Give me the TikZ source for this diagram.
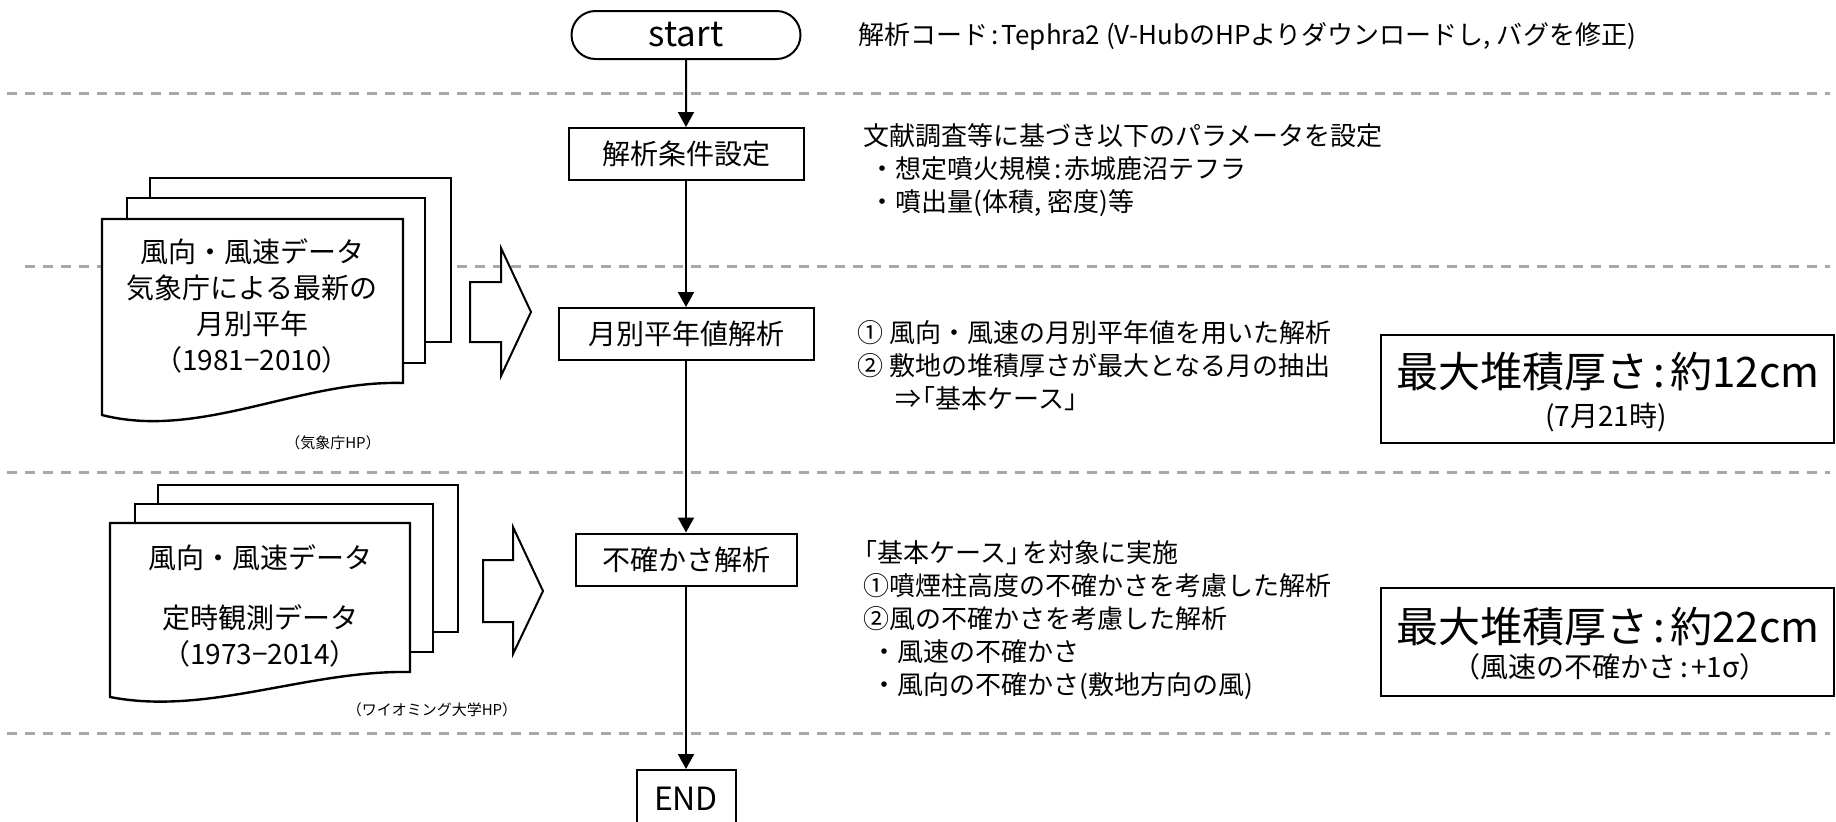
\documentclass[tikz,border=0pt]{standalone}
\usepackage{fontspec}
\setmainfont{Noto Sans CJK JP}
\usetikzlibrary{arrows.meta,positioning,shapes.misc}
\definecolor{divgray}{RGB}{168,168,168}
\newcommand{\hcol}{\kern0.12em:\kern0.12em}
\tikzset{
  flowbox/.style={draw, line width=1pt, fill=white, font=\fontsize{14pt}{17pt}\selectfont,
                  minimum height=26pt, inner sep=0pt},
  termbox/.style={draw, line width=1pt, fill=white, rounded rectangle,
                  font=\fontsize{17.5pt}{20pt}\selectfont, minimum width=114.5pt, minimum height=24pt,
                  inner sep=0pt},
  resultbox/.style={draw, line width=1pt, fill=white, minimum width=226.5pt, minimum height=54pt},
  notetext/.style={anchor=west, inner sep=0pt, align=left, font=\fontsize{13pt}{16.5pt}\selectfont},
  doctext/.style={inner sep=0pt, align=center, font=\fontsize{14pt}{18pt}\selectfont},
  srctext/.style={inner sep=0pt, font=\fontsize{7.5pt}{9pt}\selectfont},
  docpage/.style={draw, line width=1.2pt, fill=white},
  blockarrow/.style={draw, line width=1pt, fill=white},
  divline/.style={divgray, line width=1.5pt, dash pattern=on 5pt off 4pt},
  flowarrow/.style={-{Triangle[length=7.5pt, width=8pt]}, line width=1pt},
}
\begin{document}
\begin{tikzpicture}[x=0.5pt, y=-0.5pt]
\useasboundingbox (0,0) rectangle (1836,821);

% Section dividers
\draw[divline] (7,93) -- (1830,93);
\draw[divline] (25,266) -- (1830,266);
\draw[divline] (7,472) -- (1830,472);
\draw[divline] (7,733) -- (1830,733);

% Wind data stack (monthly normals)
\draw[docpage] (150,178) rectangle (451,342);
\draw[docpage] (127,198) rectangle (425,363);
\draw[docpage] (102,219) -- (403,219) -- (403,383)
      .. controls (300,380) and (200,440) .. (102,415) -- cycle;
\node[doctext] (wind1) at (252,306)
      {風向・風速データ\\気象庁による最新の\\月別平年\\（1981−2010）};
\node[srctext] (src1) at (333,443) {（気象庁HP）};

% Wind data stack (scheduled observations)
\draw[docpage] (158,485) rectangle (458,632);
\draw[docpage] (135,504) rectangle (433,652);
\draw[docpage] (110,523) -- (410,523) -- (410,672)
      .. controls (307,670) and (207,716) .. (110,697) -- cycle;
\node[doctext] (wind2) at (260,606)
      {風向・風速データ\\[12pt]定時観測データ\\（1973−2014）};
\node[srctext] (src2) at (432,710) {（ワイオミング大学HP）};

% Input arrows
\draw[blockarrow] (470,282) -- (501,282) -- (501,248) -- (531,312)
      -- (501,376) -- (501,342) -- (470,342) -- cycle;
\draw[blockarrow] (483,560) -- (513,560) -- (513,527) -- (543,591)
      -- (513,654) -- (513,622) -- (483,622) -- cycle;

% Main flow
\node[termbox] (start) at (686,35) {start};
\node[flowbox, minimum width=117.5pt] (cond) at (686,154) {解析条件設定};
\node[flowbox, minimum width=127.5pt] (normal) at (686,334) {月別平年値解析};
\node[flowbox, minimum width=110.5pt] (uncert) at (686,559.5) {不確かさ解析};
\node[flowbox, minimum width=49.5pt, minimum height=29pt,
      font=\fontsize{16pt}{18pt}\selectfont] (end) at (686,799) {END};

\draw[flowarrow] (start) -- (cond);
\draw[flowarrow] (cond) -- (normal);
\draw[flowarrow] (normal) -- (uncert);
\draw[flowarrow] (uncert) -- (end);

% Notes
\node[notetext] (code) at (858,36)
      {解析コード\hcol Tephra2 (V-HubのHPよりダウンロードし, バグを修正)};
\node[notetext] (condnote) at (863,170.5)
      {文献調査等に基づき以下のパラメータを設定\\
       \hspace*{3pt}・想定噴火規模\hcol 赤城鹿沼テフラ\\
       \hspace*{3pt}・噴出量(体積, 密度)等};
\node[notetext] (normalnote) at (857,366)
      {① 風向・風速の月別平年値を用いた解析\\
       ② 敷地の堆積厚さが最大となる月の抽出\\
       \hspace*{19pt}⇒\kern-0.45em「基本ケース」};
\node[notetext] (uncertnote) at (863,620)
      {\hspace*{-0.45em}「基本ケース」\kern-0.4em を対象に実施\\
       ①噴煙柱高度の不確かさを考慮した解析\\
       ②風の不確かさを考慮した解析\\
       \hspace*{4pt}・風速の不確かさ\\
       \hspace*{4pt}・風向の不確かさ(敷地方向の風)};

% Results
\node[resultbox] (res1) at (1607.5,389) {};
\node[font=\fontsize{21pt}{24pt}\selectfont, inner sep=0pt] (res1main) at (1608,372)
      {最大堆積厚さ\hcol 約12cm};
\node[font=\fontsize{14pt}{16pt}\selectfont, inner sep=0pt] (res1sub) at (1606,417)
      {(7月21時)};
\node[resultbox] (res2) at (1607.5,641.5) {};
\node[font=\fontsize{21pt}{24pt}\selectfont, inner sep=0pt] (res2main) at (1608,627)
      {最大堆積厚さ\hcol 約22cm};
\node[font=\fontsize{14pt}{16pt}\selectfont, inner sep=0pt] (res2sub) at (1610,667)
      {（風速の不確かさ\hcol +1σ）};

\end{tikzpicture}
\end{document}
